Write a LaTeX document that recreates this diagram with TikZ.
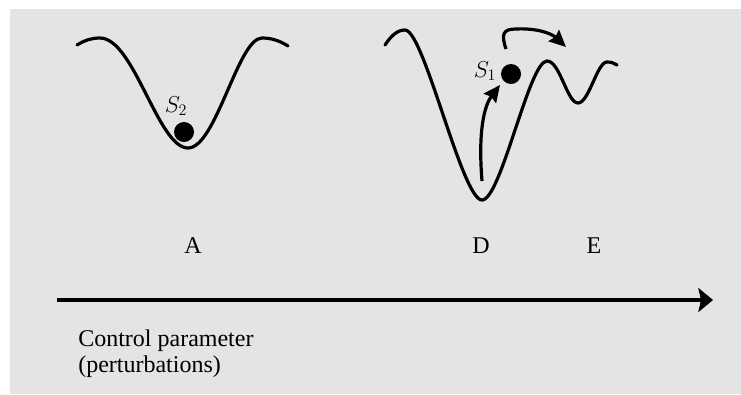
\documentclass[tikz,border=0pt]{standalone}
\usepackage{fontspec}
\setmainfont{Liberation Serif}
\usetikzlibrary{calc,positioning,arrows.meta}
\definecolor{panel}{RGB}{228,228,228}
\tikzset{
  well/.style={line width=2.4pt, line cap=round},
  ball/.style={circle, fill=black, inner sep=0pt, minimum size=15pt},
  hop/.style={line width=2.4pt, -{Stealth[length=12.5pt, width=11.5pt, inset=1.5pt]}},
  axis/.style={line width=2.3pt, -{Stealth[length=11pt, width=18pt, inset=2pt]}},
  lbl/.style={inner sep=0pt, font=\fontsize{18}{19}\selectfont},
  slbl/.style={inner sep=0pt, font=\fontsize{17}{18}\selectfont}
}

\begin{document}
\begin{tikzpicture}[x=0.75pt,y=-0.75pt]
  \useasboundingbox (0,0) rectangle (741,394);
  \fill[panel] (10,9) rectangle (741,394);
  % single well
  \draw[well] (77,45) .. controls (85,40) and (92,38) .. (100,38)
    .. controls (134,38) and (158,148) .. (188,148)
    .. controls (216,148) and (238,38) .. (262,38)
    .. controls (272,38) and (280,41) .. (288,46);
  \node[ball] (sa) at (184,132) {};
  \node[slbl] (sal) at (176,106) {$S_2$};
  % deep well and shallow wells
  \draw[well] (385,45) .. controls (391,36) and (397,30) .. (405,30)
    .. controls (424,30) and (462,200) .. (482,200)
    .. controls (501,200) and (529,61) .. (547,61)
    .. controls (560,61) and (567,103) .. (578,103)
    .. controls (589,103) and (597,62) .. (607,62)
    .. controls (611,62) and (614,63) .. (617,65);
  \node[ball] (sd) at (511,74) {};
  \node[slbl] (sdl) at (485,71) {$S_1$};
  \coordinate (up0) at (482,181);
  \coordinate (up1) at (500,85);
  \draw[hop] (up0) .. controls (478,132) and (484,106) .. (up1);
  \coordinate (jp0) at (506,49);
  \coordinate (jp1) at (566,47);
  \draw[hop] (jp0) .. controls (501,34) and (503,29) .. (516,29)
    .. controls (536,28) and (551,33) .. (jp1);
  % states
  \node[lbl] (la) at (193,246) {A};
  \node[lbl] (ld) at (481,246) {D};
  \node[lbl] (le) at (594,246) {E};
  % axis
  \coordinate (ax0) at (57,300);
  \coordinate (ax1) at (713,300);
  \draw[axis] (ax0) -- (ax1);
  \node[lbl, anchor=base west, align=left] (ctrl) at (78,372) {Control parameter\\(perturbations)};
\end{tikzpicture}
\end{document}
